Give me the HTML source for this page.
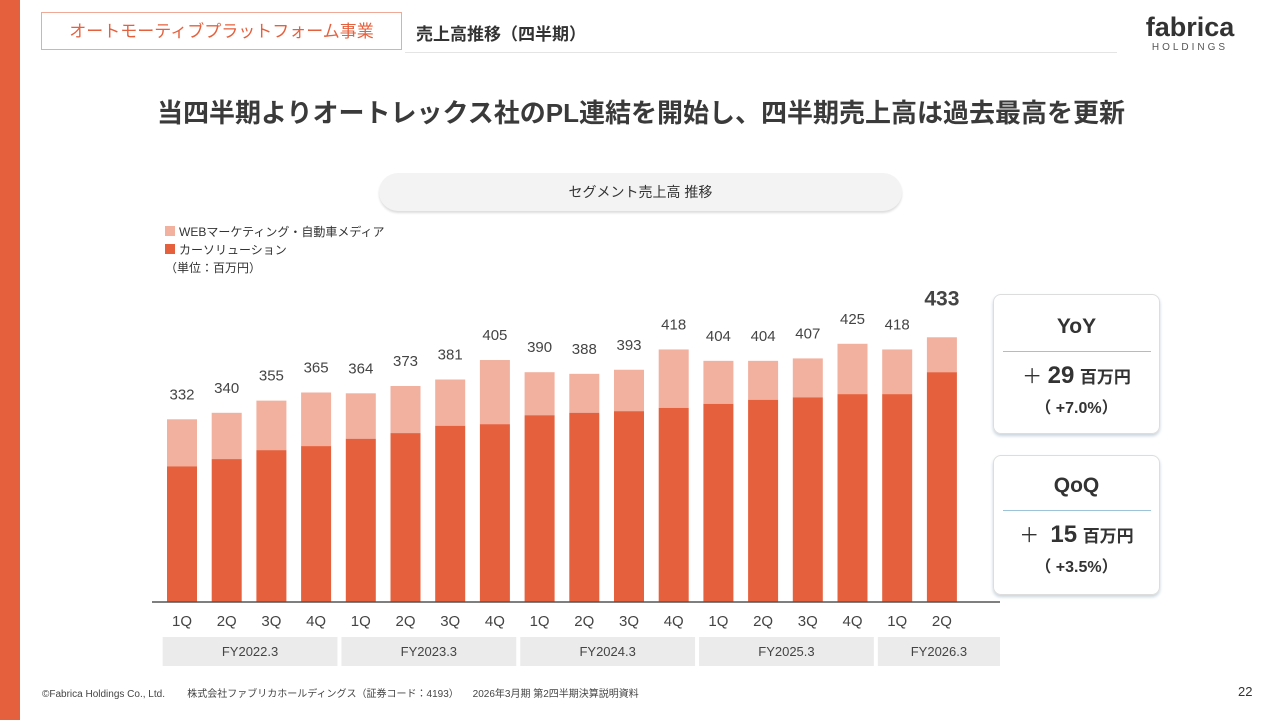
<!DOCTYPE html>
<html><head><meta charset="utf-8">
<style>
body{margin:0;width:1280px;height:720px;background:#fff;position:relative;overflow:hidden;font-family:"Liberation Sans","Noto Sans CJK JP",sans-serif;color:#333}
.abs{position:absolute}
</style></head><body>
<div class="abs" style="left:0;top:0;width:20px;height:720px;background:#E5603D"></div>
<div class="abs" style="left:41px;top:12px;width:361px;height:38px;border:1px solid #EFA998;box-sizing:border-box;color:#E5603D;font-size:17px;text-align:center;line-height:37px">オートモーティブプラットフォーム事業</div>
<div class="abs" style="left:416px;top:20px;font-size:17px;font-weight:bold;color:#333">売上高推移（四半期）</div>
<div class="abs" style="left:405px;top:52px;width:712px;height:1px;background:#e4e4e4"></div>
<div class="abs" style="left:1140px;top:12px;width:100px;text-align:center">
<div style="font-size:27px;font-weight:bold;color:#333;line-height:30px">fabrica</div>
<div style="font-size:10px;letter-spacing:3px;color:#555">HOLDINGS</div></div>
<div class="abs" style="left:0;width:1282px;top:93px;text-align:center;font-size:26px;font-weight:bold;color:#3a3a3a">当四半期よりオートレックス社のPL連結を開始し、四半期売上高は過去最高を更新</div>
<div class="abs" style="left:379px;top:173px;width:523px;height:38px;border-radius:19px;background:#f3f3f3;box-shadow:0 2px 2px #ddd;text-align:center;line-height:38px;font-size:14px">セグメント売上高 推移</div>
<div class="abs" style="left:165px;top:223px;font-size:12px;line-height:18px">
<div><span style="display:inline-block;width:10px;height:10px;background:#F2B09E;margin-right:4px"></span>WEBマーケティング・自動車メディア</div>
<div><span style="display:inline-block;width:10px;height:10px;background:#E5603D;margin-right:4px"></span>カーソリューション</div>
<div>（単位：百万円）</div></div>
<svg id="chart" class="abs" style="left:0;top:0" width="1280" height="720"></svg>
<div class="abs" style="left:993px;top:294px;width:167px;height:140px;border:1px solid #ddd;border-radius:8px;box-shadow:0 2px 3px #c8d4dc;box-sizing:border-box;text-align:center">
<div style="font-size:21px;font-weight:bold;margin-top:20px">YoY</div>
<div style="width:148px;height:1px;background:#9cc3d8;margin:12px auto 8px"></div>
<div style="font-size:20px">＋ <b style="font-size:24px">29</b> <b style="font-size:17px">百万円</b></div>
<div style="font-size:16px;font-weight:bold;margin-top:4px">（ +7.0%）</div></div>
<div class="abs" style="left:993px;top:455px;width:167px;height:140px;border:1px solid #ddd;border-radius:8px;box-shadow:0 2px 3px #c8d4dc;box-sizing:border-box;text-align:center">
<div style="font-size:21px;font-weight:bold;margin-top:18px">QoQ</div>
<div style="width:148px;height:1px;background:#9cc3d8;margin:12px auto 8px"></div>
<div style="font-size:20px">＋ &nbsp;<b style="font-size:24px">15</b> <b style="font-size:17px">百万円</b></div>
<div style="font-size:16px;font-weight:bold;margin-top:4px">（ +3.5%）</div></div>
<div class="abs" style="left:42px;top:685px;font-size:10px;color:#444">©Fabrica Holdings Co., Ltd. &nbsp; &nbsp; &nbsp; &nbsp;株式会社ファブリカホールディングス（証券コード：4193） &nbsp; &nbsp; 2026年3月期 第2四半期決算説明資料</div>
<div class="abs" style="left:1238px;top:684px;font-size:13px;color:#333">22</div>
<script>
const quarters=["1Q","2Q","3Q","4Q","1Q","2Q","3Q","4Q","1Q","2Q","3Q","4Q","1Q","2Q","3Q","4Q","1Q","2Q"];
const totals=[332,340,355,365,364,373,381,405,390,388,393,418,404,404,407,425,418,433];
const carSolution=[274,283,294,299,308,315,324,326,337,340,342,346,351,356,359,363,363,390];
const fiscalYears=["FY2022.3","FY2023.3","FY2024.3","FY2025.3","FY2026.3"];
const fyQuarterCounts=[4,4,4,4,2];
const svg=document.getElementById('chart');const NS="http://www.w3.org/2000/svg";
const base=602,vmin=107,k=0.812,x0=182,step=44.7,bw=30;
const y=v=>base-(v-vmin)*k;const xc=i=>x0+i*step;
function mk(t,a){const e=document.createElementNS(NS,t);for(const n in a)e.setAttribute(n,a[n]);svg.appendChild(e);return e;}
totals.forEach((t,i)=>{
 const web=t-carSolution[i];
 const r1=mk('rect',{x:xc(i)-bw/2,y:y(t),width:bw,height:web*k,fill:'#F2B09E'});
 
 
 const r2=mk('rect',{x:xc(i)-bw/2,y:y(carSolution[i]),width:bw,height:base-y(carSolution[i]),fill:'#E5603D'});
 
 
 const last=i===totals.length-1;
 const tl=mk('text',{x:xc(i),y:y(t)-(last?32:20),'text-anchor':'middle','font-size':last?21:15,'font-weight':last?'bold':'normal',fill:'#444'});
 tl.textContent=t;
 
 
 const ql=mk('text',{x:xc(i),y:626,'text-anchor':'middle','font-size':15,fill:'#444'});
 ql.textContent=quarters[i];
 
 
});
const ax=mk('line',{x1:152,x2:1000,y1:base,y2:base,stroke:'#555','stroke-width':1.5});


let qi=0;
fiscalYears.forEach((f,j)=>{
 const n=fyQuarterCounts[j];
 const left=xc(qi)-step/2+3;
 const right=(j===fiscalYears.length-1)?1000:xc(qi+n-1)+step/2-1;
 const r=mk('rect',{x:left,y:637,width:right-left,height:29,fill:'#ebebeb'});
 
 
 const t=mk('text',{x:(left+right)/2,y:656,'text-anchor':'middle','font-size':13,fill:'#444'});
 t.textContent=f;
 
 
 qi+=n;
});
</script>
</body></html>
